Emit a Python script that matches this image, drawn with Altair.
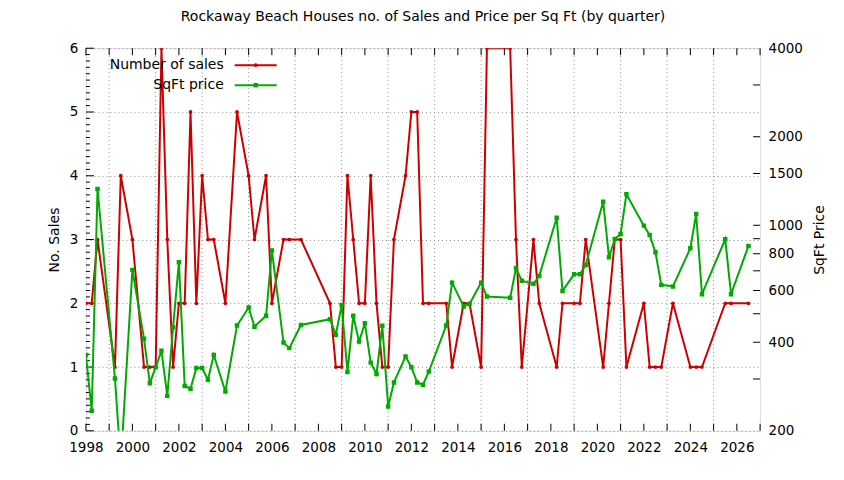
import altair as alt
import pandas as pd

# ---------------- data ----------------
quarters = [
    "1998Q1", "1998Q2", "1998Q3", "1999Q2", "1999Q3", "2000Q1", "2000Q3", "2000Q4",
    "2001Q1", "2001Q2", "2001Q3", "2001Q4", "2002Q1", "2002Q2", "2002Q3", "2002Q4",
    "2003Q1", "2003Q2", "2003Q3", "2004Q1", "2004Q3", "2005Q1", "2005Q2", "2005Q4",
    "2006Q1", "2006Q3", "2006Q4", "2007Q2", "2008Q3", "2008Q4", "2009Q1", "2009Q2",
    "2009Q3", "2009Q4", "2010Q1", "2010Q2", "2010Q3", "2010Q4", "2011Q1", "2011Q2",
    "2011Q4", "2012Q1", "2012Q2", "2012Q3", "2012Q4", "2013Q3", "2013Q4", "2014Q2",
    "2014Q3", "2015Q1", "2015Q2", "2016Q2", "2016Q3", "2016Q4", "2017Q2", "2017Q3",
    "2018Q2", "2018Q3", "2019Q1", "2019Q2", "2019Q3", "2020Q2", "2020Q3", "2020Q4",
    "2021Q1", "2021Q2", "2022Q1", "2022Q2", "2022Q3", "2022Q4", "2023Q2", "2024Q1",
    "2024Q2", "2024Q3", "2025Q3", "2025Q4", "2026Q3",
]
sales = [
    2, 2, 3, 1, 4, 3, 1, 1,
    1, 6, 3, 1, 2, 2, 5, 2,
    4, 3, 3, 2, 5, 4, 3, 4,
    2, 3, 3, 3, 2, 1, 1, 4,
    3, 2, 2, 4, 2, 1, 1, 3,
    4, 5, 5, 2, 2, 2, 1, 2,
    2, 1, 6, 6, 3, 1, 3, 2,
    1, 2, 2, 2, 3, 1, 2, 3,
    3, 1, 2, 1, 1, 1, 2, 1,
    1, 1, 2, 2, 2,
]
sqft_price = [
    362, 234, 1328, 301, 155, 705, 411, 290,
    329, 374, 263, 450, 749, 284, 278, 327,
    327, 298, 362, 272, 456, 525, 452, 492,
    820, 399, 382, 458, 479, 424, 536, 317,
    492, 402, 464, 341, 312, 455, 242, 292,
    358, 329, 292, 287, 318, 456, 638, 529,
    540, 638, 572, 567, 714, 648, 632, 672,
    1061, 598, 681, 681, 733, 1202, 778, 898,
    934, 1274, 997, 926, 809, 627, 619, 835,
    1092, 583, 896, 583, 850,
]
series_names = ["Number of sales", "SqFt price"]

title_text = "Rockaway Beach Houses no. of Sales and Price per Sq Ft (by quarter)"
x_label_years = list(range(1998, 2027, 2))
x_grid_years = list(range(1999, 2027, 2))
x_tick_years = list(range(1998, 2028))
left_major = [0, 1, 2, 3, 4, 5, 6]
left_minor = [i / 10 for i in range(61) if i % 10]
right_labels = [200, 400, 600, 800, 1000, 1500, 2000, 4000]
right_ticks = [300, 400, 500, 600, 700, 800, 900, 1000, 1500, 2000, 3000]


def quarter_to_year(q):
    return int(q[:4]) + (int(q[-1]) - 1) / 4


df = pd.DataFrame({
    "t": [quarter_to_year(q) for q in quarters],
    "sales": sales,
    "price": sqft_price,
})

W, H = 675, 383
RED, GREEN = "#cc0000", "#00aa00"
GRID = "#8c8c8c"
FONT = "DejaVu Sans"

xscale = alt.Scale(domain=[1998, 2027], nice=False, zero=False)
xaxis = alt.Axis(values=x_label_years, format="d", title=None, grid=False, ticks=False,
                 domain=False, labelFlush=False, labelFontSize=13.5, labelColor="black",
                 labelPadding=10)


def X(field="t"):
    return alt.X(f"{field}:Q", scale=xscale, axis=xaxis)


yl_scale = alt.Scale(domain=[0, 6], nice=False, zero=True)
yl_axis = alt.Axis(values=left_major, format="d", grid=True, gridDash=[1, 3], gridColor=GRID,
                   ticks=False, domain=False, labelFontSize=13.5, labelColor="black",
                   labelPadding=8, title="No. Sales", titleFontSize=14,
                   titleFontWeight="normal", titleColor="black", titlePadding=8)


def YL(field):
    return alt.Y(f"{field}:Q", scale=yl_scale, axis=yl_axis)


yr_scale = alt.Scale(type="log", domain=[200, 4000], nice=False)
yr_axis = alt.Axis(orient="right", values=right_labels, format="d", grid=False, ticks=False,
                   domain=False, labelFontSize=13.5, labelColor="black", labelPadding=8,
                   title="SqFt Price", titleAngle=270, titleFontSize=14,
                   titleFontWeight="normal", titleColor="black", titlePadding=24)


def YR(field):
    return alt.Y(f"{field}:Q", scale=yr_scale, axis=yr_axis)


# ---------- left group ----------
vgrid = alt.Chart(pd.DataFrame({"t": x_grid_years})).mark_rule(
    color=GRID, strokeDash=[1, 3], strokeWidth=1).encode(x=X())

xt = pd.DataFrame({"t": x_tick_years})
xticks_bottom = alt.Chart(xt).mark_rule(color="black").encode(
    x=X(), y=alt.value(H), y2=alt.value(H - 7))
xticks_top = alt.Chart(xt).mark_rule(color="black").encode(
    x=X(), y=alt.value(0), y2=alt.value(7))

lminor = alt.Chart(pd.DataFrame({"v": left_minor})).mark_rule(color="black").encode(
    y=YL("v"), x=alt.value(0), x2=alt.value(4))
lmajor = alt.Chart(pd.DataFrame({"v": left_major})).mark_rule(color="black").encode(
    y=YL("v"), x=alt.value(0), x2=alt.value(8))

red_line = alt.Chart(df).mark_line(color=RED, strokeWidth=2, clip=True).encode(
    x=X(), y=YL("sales"))
red_pts = alt.Chart(df).mark_point(color=RED, filled=True, size=14, opacity=1, clip=True).encode(
    x=X(), y=YL("sales"))

# legend (gnuplot style: text then sample)
leg_rows = []
for i, (name, col, shape) in enumerate(zip(series_names, [RED, GREEN], ["circle", "square"])):
    d = pd.DataFrame({"label": [name]})
    yy = 17 + 20 * i
    leg_rows.append(alt.Chart(d).mark_text(align="right", baseline="middle", fontSize=14,
                                           font=FONT, color="black").encode(
        x=alt.value(138), y=alt.value(yy), text="label:N"))
    leg_rows.append(alt.Chart(d).mark_rule(color=col, strokeWidth=2).encode(
        x=alt.value(149), x2=alt.value(191), y=alt.value(yy)))
    leg_rows.append(alt.Chart(d).mark_point(color=col, filled=True, opacity=1, shape=shape,
                                            size=14 if shape == "circle" else 20).encode(
        x=alt.value(170), y=alt.value(yy)))

left = alt.layer(vgrid, xticks_bottom, xticks_top, lminor, lmajor, red_line, red_pts)

# ---------- right group ----------
rticks = alt.Chart(pd.DataFrame({"v": right_ticks})).mark_rule(color="black").encode(
    y=YR("v"), x=alt.value(W), x2=alt.value(W - 7))
green_line = alt.Chart(df).mark_line(color=GREEN, strokeWidth=2, clip=True).encode(
    x=X(), y=YR("price"))
green_pts = alt.Chart(df).mark_point(color=GREEN, filled=True, shape="square", size=20,
                                     opacity=1, clip=True).encode(x=X(), y=YR("price"))
right = alt.layer(rticks, green_line, green_pts)

legend = alt.layer(*leg_rows)

chart = alt.layer(left, right, legend).resolve_scale(y="independent").properties(
    width=W, height=H,
    autosize="none",
    padding={"left": 78, "top": 40, "right": 76, "bottom": 40},
    title=alt.Title(title_text, fontSize=14, fontWeight="normal", font=FONT, color="black",
                    anchor="middle", frame="group", offset=17),
).configure_view(stroke="black", strokeWidth=1).configure(
    font=FONT, background="white")

chart.save("out.html", embed_options={"renderer": "svg", "actions": False})
